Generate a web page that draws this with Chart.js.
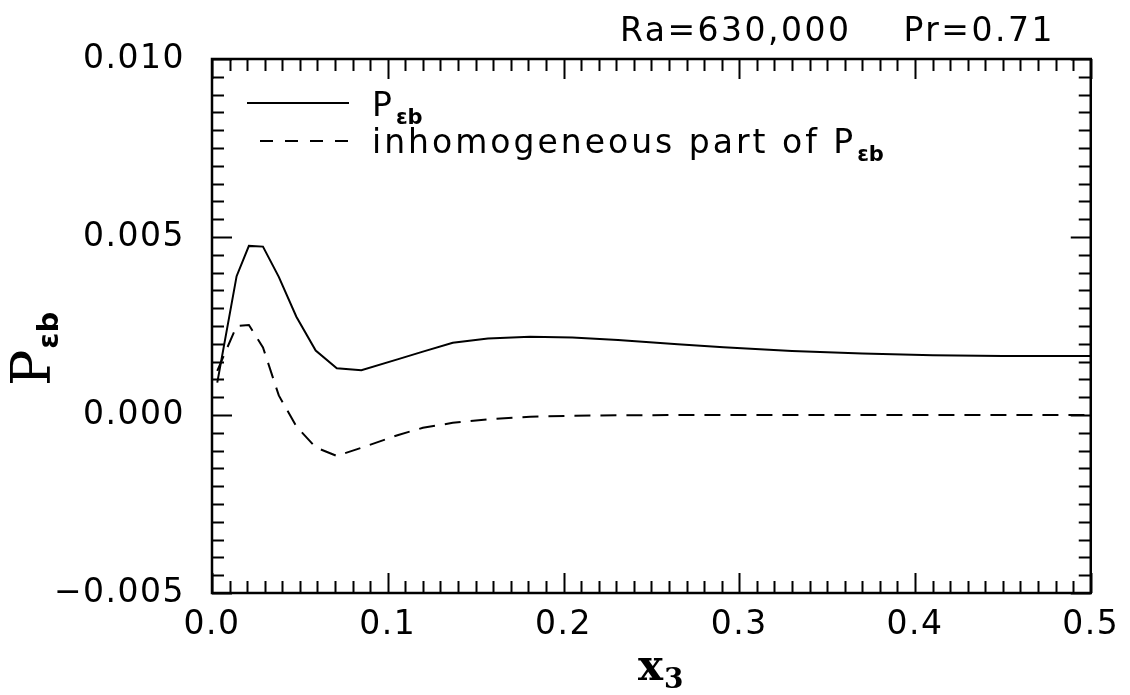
<!DOCTYPE html>
<html>
<head>
<meta charset="utf-8">
<title>P_eb profile</title>
<script src="https://cdn.jsdelivr.net/npm/chart.js@4.4.1/dist/chart.umd.min.js"></script>
<style>
  html, body { margin: 0; padding: 0; background: #fff; }
  #wrap { width: 1130px; height: 695px; }
</style>
</head>
<body>
<div id="wrap"><canvas id="pebChart" width="1130" height="695"></canvas></div>
<script>
// wall-normal coordinate and the two profiles
var x3 = [0.003, 0.014, 0.021, 0.029, 0.038, 0.048, 0.059, 0.071, 0.085, 0.106,
          0.120, 0.137, 0.157, 0.181, 0.205, 0.231, 0.265, 0.291, 0.330, 0.370,
          0.410, 0.450, 0.500];
var pTotal = [0.00091, 0.00390, 0.00475, 0.00473, 0.00388, 0.00276, 0.00181, 0.00131, 0.00126, 0.00157,
              0.00178, 0.00203, 0.00215, 0.00220, 0.00218, 0.00211, 0.00199, 0.00190, 0.00180, 0.00173,
              0.00168, 0.00166, 0.00166];
var pInhom = [0.00124, 0.00250, 0.00253, 0.00190, 0.00055, -0.00032, -0.00091, -0.00115, -0.00092, -0.00056,
              -0.00036, -0.00022, -0.00012, -0.00005, -0.00002, -0.00001, 0.0, 0.0, 0.0, 0.0,
              0.0, 0.0, 0.0];

var xTicks = [0.0, 0.1, 0.2, 0.3, 0.4, 0.5];
var yTicks = [-0.005, 0.000, 0.005, 0.010];
var seriesNames = ["P", "inhomogeneous part of P"];

var SANS = "'DejaVu Sans', sans-serif";
var SERIF = "'DejaVu Serif', serif";

function pts(ys) {
  return x3.map(function (x, i) { return { x: x, y: ys[i] }; });
}

// text with a lowered subscript, returns end x
function richText(ctx, x, y, main, mainFont, sub, subFont, drop) {
  ctx.font = mainFont;
  ctx.fillText(main, x, y);
  var w = ctx.measureText(main).width;
  var ls = ctx.letterSpacing;
  ctx.letterSpacing = "0px";
  ctx.font = subFont;
  ctx.fillText(sub, x + w + 1, y + drop);
  var end = x + w + 1 + ctx.measureText(sub).width;
  ctx.letterSpacing = ls;
  return end;
}

// box frame with inward ticks on all four sides, plus labels
var framePlugin = {
  id: "framePlugin",
  beforeDraw: function (chart) {
    // wider spacing for the axis numbers
    chart.ctx.letterSpacing = "1.5px";
  },
  afterDatasetsDraw: function (chart) {
    var ctx = chart.ctx;
    var a = chart.chartArea;
    var xs = chart.scales.x, ys = chart.scales.y;
    ctx.save();
    ctx.strokeStyle = "#000";
    ctx.lineWidth = 2;
    ctx.beginPath();
    var i, v, px, len;
    for (i = 0; i <= 50; i++) {
      v = i * 0.01;
      px = Math.round(xs.getPixelForValue(v)) + 0.5;
      len = i % 10 === 0 ? 20 : 12;
      ctx.moveTo(px, a.bottom); ctx.lineTo(px, a.bottom - len);
      ctx.moveTo(px, a.top); ctx.lineTo(px, a.top + len);
    }
    for (i = 0; i <= 30; i++) {
      v = -0.005 + i * 0.0005;
      px = Math.round(ys.getPixelForValue(v)) + 0.5;
      len = i % 10 === 0 ? 20 : 12;
      ctx.moveTo(a.left, px); ctx.lineTo(a.left + len, px);
      ctx.moveTo(a.right, px); ctx.lineTo(a.right - len, px);
    }
    ctx.stroke();
    ctx.lineWidth = 2.5;
    ctx.strokeRect(a.left, a.top, a.right - a.left, a.bottom - a.top);
    ctx.restore();
  },
  afterDraw: function (chart) {
    var ctx = chart.ctx;
    ctx.save();
    ctx.fillStyle = "#000";
    ctx.textBaseline = "alphabetic";

    // run parameters
    ctx.letterSpacing = "2.5px";
    ctx.font = "33px " + SANS;
    ctx.textAlign = "right";
    ctx.fillText("Ra=630,000    Pr=0.71", 1055, 41);
    ctx.textAlign = "left";

    // legend
    ctx.strokeStyle = "#000";
    ctx.lineWidth = 2;
    ctx.beginPath();
    ctx.moveTo(247, 103); ctx.lineTo(349, 103);
    ctx.stroke();
    ctx.setLineDash([13, 12]);
    ctx.beginPath();
    ctx.moveTo(260, 141); ctx.lineTo(349, 141);
    ctx.stroke();
    ctx.setLineDash([]);
    ctx.letterSpacing = "3px";
    richText(ctx, 372, 116, seriesNames[0], "33px " + SANS, "\u03b5b", "bold 21px " + SANS, 8);
    richText(ctx, 372, 153, seriesNames[1], "33px " + SANS, "\u03b5b", "bold 21px " + SANS, 8);

    // axis titles
    ctx.letterSpacing = "0px";
    richText(ctx, 638, 680, "x", "bold 42px " + SERIF, "3", "bold 28px " + SERIF, 8);

    ctx.translate(50, 386);
    ctx.rotate(-Math.PI / 2);
    richText(ctx, 0, 0, "P", "54px " + SERIF, "\u03b5b", "bold 29px " + SANS, 8);
    ctx.restore();
  }
};

var ctx = document.getElementById("pebChart").getContext("2d");
var pebChart = new Chart(ctx, {
  type: "line",
  data: {
    datasets: [
      {
        label: seriesNames[0],
        data: pts(pTotal),
        borderColor: "#000",
        borderWidth: 2,
        pointRadius: 0,
        tension: 0,
        fill: false,
      },
      {
        label: seriesNames[1],
        data: pts(pInhom),
        borderColor: "#000",
        borderWidth: 2,
        borderDash: [16, 10],
        pointRadius: 0,
        tension: 0,
        fill: false,
      },
    ],
  },
  options: {
    responsive: false,
    animation: false,
    devicePixelRatio: 1,
    layout: { padding: { top: 59, right: 29, left: 0, bottom: 0 } },
    plugins: {
      legend: { display: false },
      tooltip: { enabled: false },
      title: { display: false },
    },
    scales: {
      x: {
        type: "linear",
        min: 0,
        max: 0.5,
        grid: { display: false, drawTicks: false },
        border: { display: false },
        afterBuildTicks: function (s) {
          s.ticks = xTicks.map(function (v) { return { value: v }; });
        },
        afterFit: function (s) { s.height = 102; },
        ticks: {
          autoSkip: false,
          maxRotation: 0,
          padding: 13,
          color: "#000",
          font: { family: SANS, size: 33 },
          callback: function (v) { return Number(v).toFixed(1); },
        },
      },
      y: {
        type: "linear",
        min: -0.005,
        max: 0.010,
        grid: { display: false, drawTicks: false },
        border: { display: false },
        afterBuildTicks: function (s) {
          s.ticks = yTicks.map(function (v) { return { value: v }; });
        },
        afterFit: function (s) { s.width = 212; },
        ticks: {
          autoSkip: false,
          padding: 27,
          color: "#000",
          font: { family: SANS, size: 33 },
          callback: function (v) {
            return (v < 0 ? "\u2212" : "") + Math.abs(v).toFixed(3);
          },
        },
      },
    },
  },
  plugins: [framePlugin],
});
</script>
</body>
</html>
